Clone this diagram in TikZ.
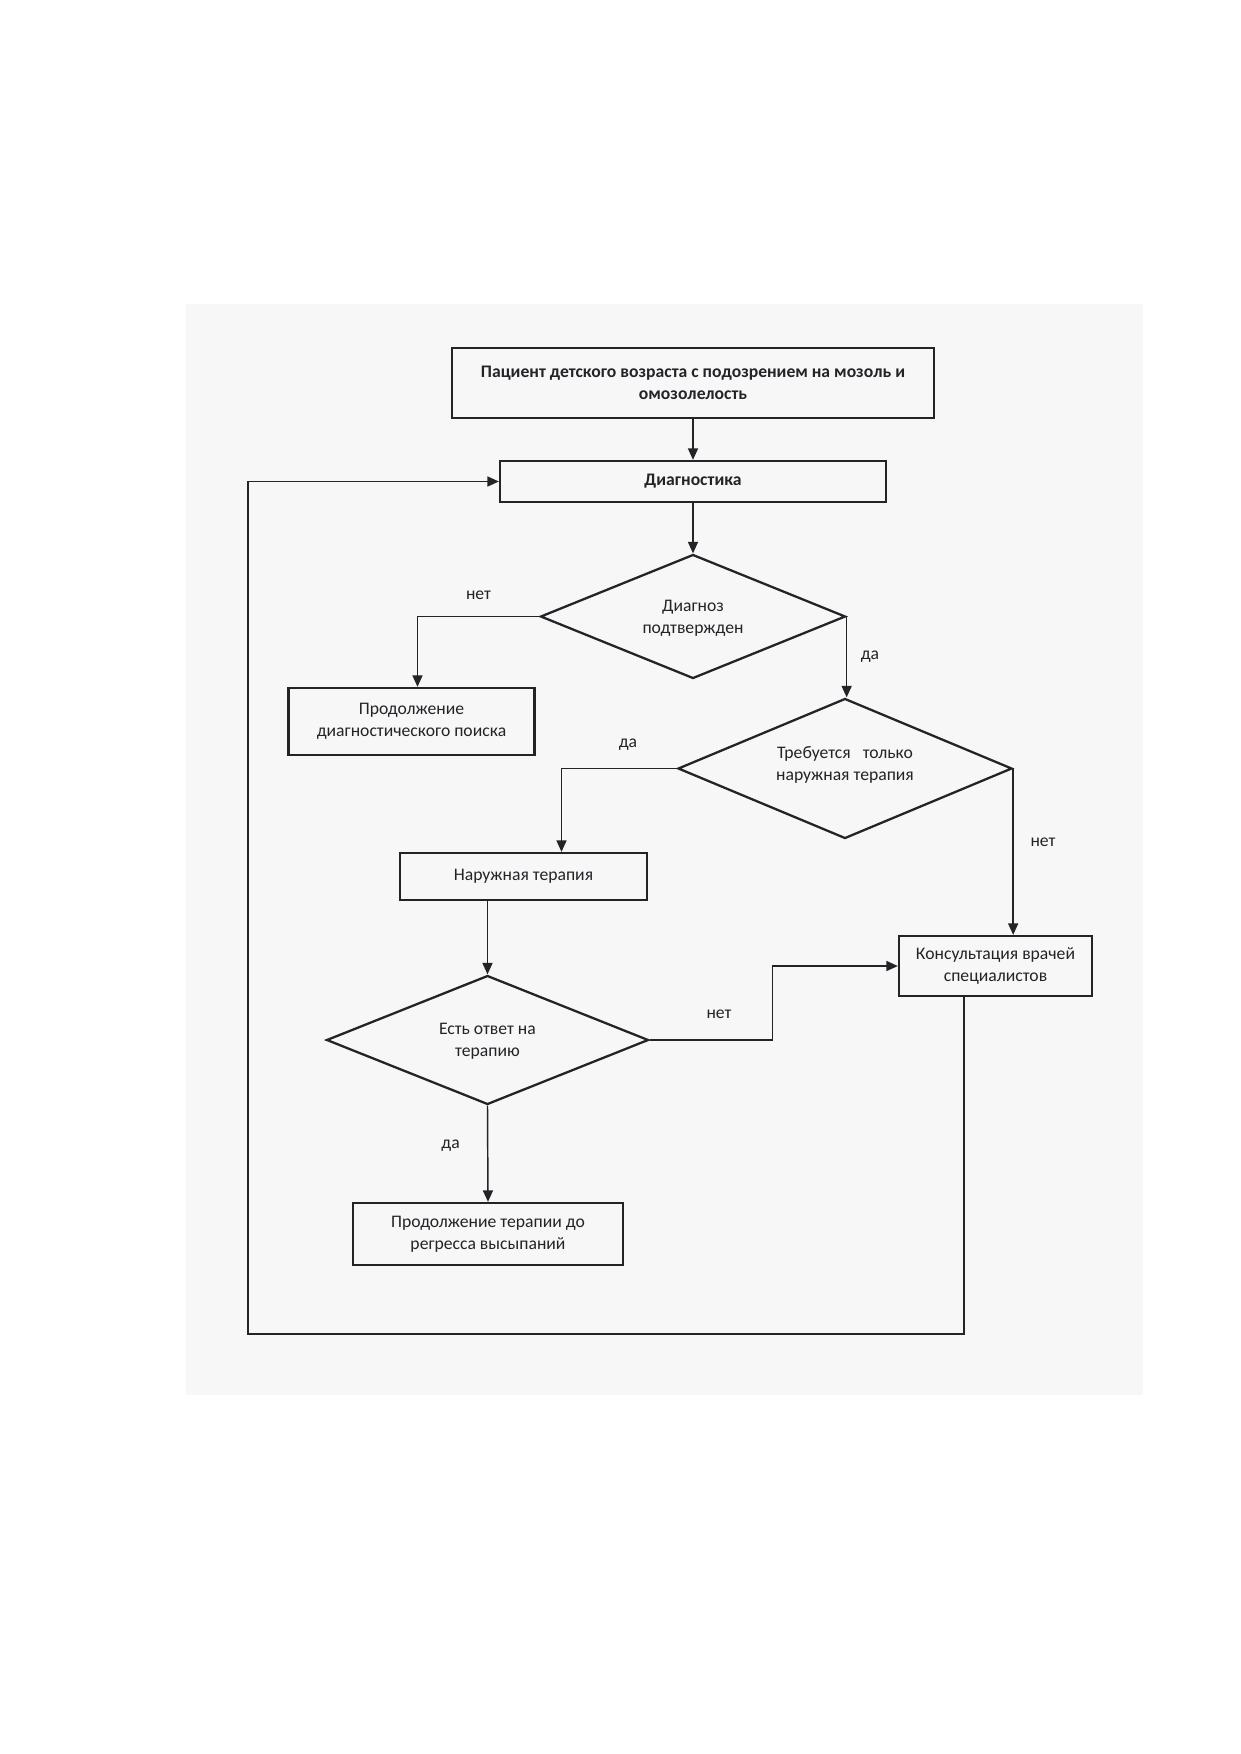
\documentclass[tikz,border=0pt]{standalone}
\usepackage{fontspec}
\setmainfont{Carlito}
\usetikzlibrary{shapes.geometric,arrows.meta,calc}
\definecolor{scan}{RGB}{248,247,248}
\definecolor{ink}{RGB}{35,35,40}
\begin{document}
\begin{tikzpicture}[x=0.16933mm,y=-0.16933mm,
  font=\fontsize{8.5}{10.6}\selectfont,
  ln/.style={draw=ink, line width=0.7pt},
  arr/.style={ln, -{Triangle[length=5.5pt,width=4.8pt]}},
  box/.style={draw=ink, line width=1.1pt, align=center, inner sep=0pt, text=ink},
  dia/.style={diamond, draw=ink, line width=1.1pt, inner sep=0pt},
  lbl/.style={inner sep=0pt, text=ink, align=center}
]
\fill[white] (0,0) rectangle (1240,1754);
\useasboundingbox (0,0) rectangle (1240,1754);
\fill[scan] (186,304) rectangle (1143,1395);

\node[box, line width=1.4pt, minimum width=81.62mm, minimum height=11.85mm, font=\fontsize{8.5}{10.6}\selectfont\bfseries] (top) at (693,383)
  {Пациент детского возраста с подозрением на мозоль и\\омозолелость};
\node[box, minimum width=65.36mm, minimum height=6.94mm, font=\fontsize{8.5}{10.6}\selectfont\bfseries] (diag) at (693,481.5) {Диагностика};
\node[dia, minimum width=51.65mm, minimum height=21.0mm,
  label={[lbl,yshift=-1pt]center:Диагноз\\подтвержден}] (d1) at (693,616.5) {};
\node[box, minimum width=41.66mm, minimum height=11.35mm] (p1) at (411.5,721.5) {Продолжение\\диагностического поиска};
\node[dia, minimum width=56.56mm, minimum height=23.71mm,
  label={[lbl,yshift=1.6pt]center:Требуется\ \ \ только\\наружная терапия}] (d2) at (845,768.5) {};
\node[box, minimum width=41.82mm, minimum height=7.96mm] (n1) at (523.5,876.5) {Наружная терапия};
\node[box, minimum width=32.68mm, minimum height=10.16mm] (k) at (995.5,966) {Консультация врачей\\специалистов};
\node[dia, minimum width=54.52mm, minimum height=21.84mm,
  label={[lbl,yshift=-0.4pt]center:Есть ответ на\\терапию}] (d3) at (487.5,1040) {};
\node[box, minimum width=45.72mm, minimum height=10.5mm] (p2) at (488,1234) {Продолжение терапии до\\регресса высыпаний};

\draw[arr] (top) -- (diag);
\draw[arr] (diag) -- (d1);
\draw[arr] (d1.west) -| ($(p1.north)+(6,0)$);
\draw[arr] (d1.east) -- (d1.east |- d2.north);
\draw[arr] (d2.west) -| ($(n1.north)+(38,0)$);
\draw[arr] (d2.east) -- (d2.east |- k.north);
\draw[arr] (d3.north |- n1.south) -- (d3.north);
\coordinate (c3) at (772.6,0);
\draw[arr] (d3.east) -| (c3 |- k.west) -- (k.west);
\draw[arr] (d3.south) -- (p2.north);
\coordinate (c1) at (964,1334);
\coordinate (c2) at (248,1334);
\draw[arr] (c1 |- k.south) -- (c1) -- (c2) |- (diag.west);

\node[lbl] (l1) at (478.5,595) {нет};
\node[lbl] (l2) at (870,657) {да};
\node[lbl] (l3) at (628,745) {да};
\node[lbl] (l4) at (1043,842) {нет};
\node[lbl] (l5) at (719,1014) {нет};
\node[lbl] (l6) at (450.6,1146) {да};
\end{tikzpicture}
\end{document}
